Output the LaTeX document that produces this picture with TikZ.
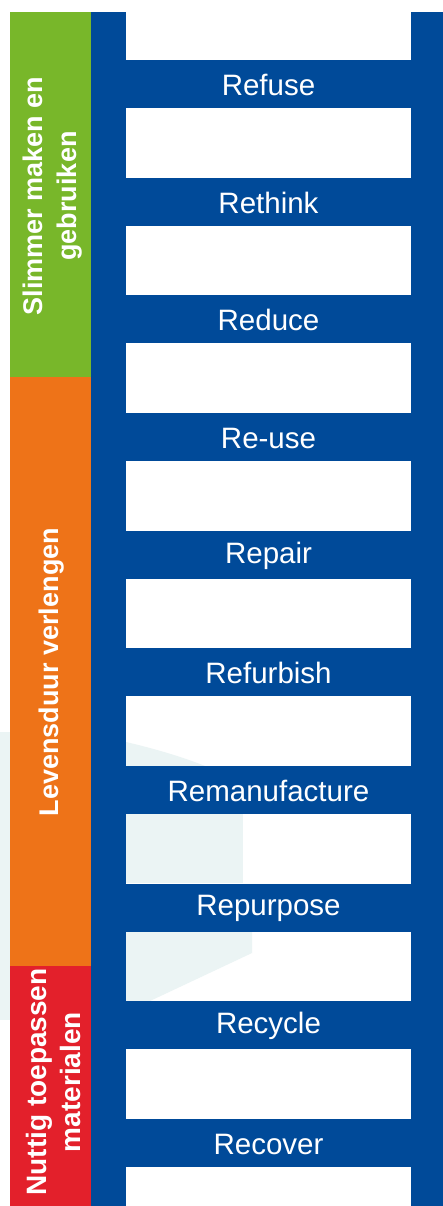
\documentclass[tikz,border=0pt]{standalone}
\usepackage{fontspec}
\setmainfont{Liberation Sans}
\definecolor{ladderblue}{HTML}{004A99}
\definecolor{barGreen}{HTML}{78B72A}
\definecolor{barOrange}{HTML}{EE7318}
\definecolor{barRed}{HTML}{E3202B}
\definecolor{haze}{HTML}{EBF4F4}
\begin{document}
\begin{tikzpicture}[x=1pt,y=-1pt,
  rungtext/.style={text=white,font=\fontsize{29.5}{30}\selectfont,inner sep=0pt},
  sidetext/.style={text=white,rotate=90,align=center,inner sep=0pt},
  ]
\useasboundingbox (0,0) rectangle (443,1206);
\fill[white] (0,0) rectangle (443,1206);
% faint background patches
\fill[haze] (0,732) rectangle (10,1020);
\fill[haze] (126,742) .. controls (160,750) and (185,758) .. (205,766) -- (126,766) -- cycle;
\fill[haze] (126,813) rectangle (243,883);
\fill[haze] (126,931) -- (252,931) -- (252,953) -- (150,1001) -- (126,1001) -- cycle;
% side bars
\fill[barGreen] (10,12) rectangle (91,377);
\fill[barOrange] (10,377) rectangle (91,966);
\fill[barRed] (10,966) rectangle (91,1206);
\node[sidetext,font=\bfseries\fontsize{27}{34}\selectfont] (slimmer) at (53,196) {Slimmer maken en\\gebruiken};
\node[sidetext,font=\bfseries\fontsize{27}{34}\selectfont] (levensduur) at (52,672) {Levensduur verlengen};
\node[sidetext,font=\bfseries\fontsize{28}{34}\selectfont] (nuttig) at (53,1082) {Nuttig toepassen\\materialen};
% ladder rails
\fill[ladderblue] (91,12) rectangle (126,1206);
\fill[ladderblue] (411,12) rectangle (443,1206);
% rungs
\foreach \lab [count=\i from 0] in {Refuse,Rethink,Reduce,Re-use,Repair,Refurbish,Remanufacture,Repurpose,Recycle,Recover}{
  \pgfmathsetmacro{\yt}{60+117.67*\i}
  \fill[ladderblue] (126,\yt) rectangle (411,\yt+48);
  \node[rungtext] (rung\i) at (268.5,\yt+25) {\lab};
}
\end{tikzpicture}
\end{document}
